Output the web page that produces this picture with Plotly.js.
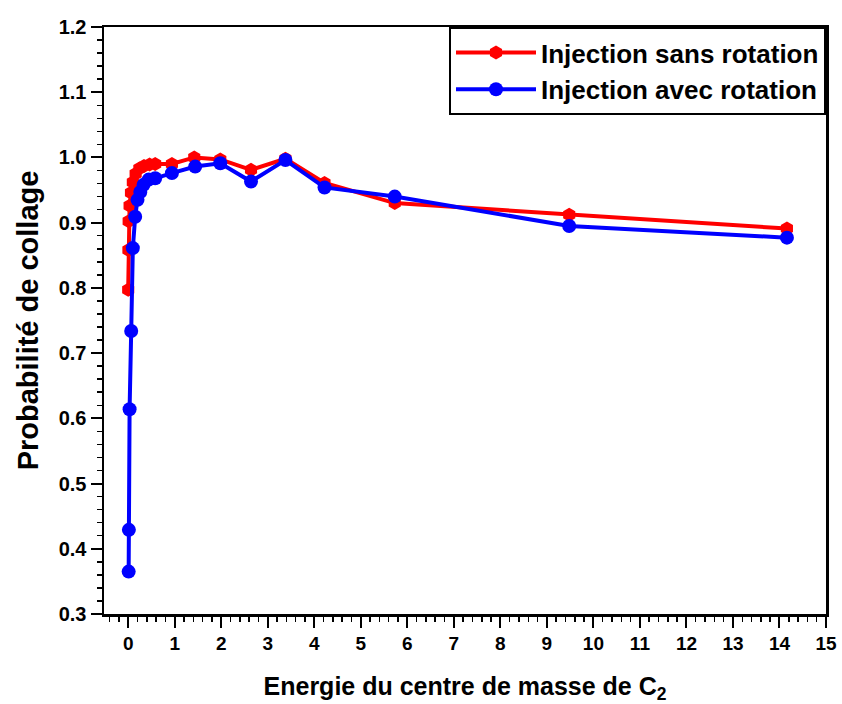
<!DOCTYPE html>
<html>
<head>
<meta charset="utf-8">
<script src="https://cdn.plot.ly/plotly-3.0.1.min.js"></script>
<style>html,body{margin:0;padding:0;background:#fff;}#chart{width:842px;height:704px;}</style>
</head>
<body>
<div id="chart"></div>
<script>
// Series: Injection sans rotation (red)
const xSans = [0.0, 0.005, 0.01, 0.03, 0.06, 0.1, 0.16, 0.24, 0.34, 0.46, 0.58, 0.94, 1.42, 1.98, 2.64, 3.38, 4.22, 5.73, 9.48, 14.16];
const ySans = [0.797, 0.858, 0.902, 0.926, 0.946, 0.962, 0.975, 0.983, 0.987, 0.989, 0.990, 0.990, 1.000, 0.997, 0.981, 0.998, 0.961, 0.930, 0.912, 0.891];
// Series: Injection avec rotation (blue)
const xAvec = [0.01, 0.015, 0.03, 0.065, 0.1, 0.15, 0.2, 0.26, 0.33, 0.44, 0.58, 0.94, 1.44, 1.98, 2.64, 3.38, 4.22, 5.73, 9.48, 14.16];
const yAvec = [0.365, 0.429, 0.614, 0.734, 0.861, 0.909, 0.935, 0.947, 0.958, 0.966, 0.968, 0.976, 0.986, 0.991, 0.963, 0.996, 0.954, 0.940, 0.895, 0.877];
const seriesNames = ["Injection sans rotation", "Injection avec rotation"];
const xTickVals = [0,1,2,3,4,5,6,7,8,9,10,11,12,13,14,15];
const yTickVals = [0.3,0.4,0.5,0.6,0.7,0.8,0.9,1.0,1.1,1.2];
const yTickText = ["0.3","0.4","0.5","0.6","0.7","0.8","0.9","1.0","1.1","1.2"];
const xTitle = "Energie du centre de masse de C<sub>2</sub>";
const yTitle = "Probabilité de collage";

const boldFont = "Liberation Sans, Arial, sans-serif";

const traces = [
  {x: xSans, y: ySans, name: seriesNames[0], mode: "lines+markers", type: "scatter",
   line: {color: "#FF0000", width: 4}, marker: {symbol: "hexagon", size: 14, color: "#FF0000"}},
  {x: xAvec, y: yAvec, name: seriesNames[1], mode: "lines+markers", type: "scatter",
   line: {color: "#0000FF", width: 4}, marker: {symbol: "circle", size: 14, color: "#0000FF"}}
];

const layout = {
  width: 842, height: 704,
  margin: {l: 104, r: 16, t: 27, b: 90},
  paper_bgcolor: "#fff", plot_bgcolor: "#fff",
  showlegend: true,
  legend: {x: 1, y: 1, xanchor: "right", yanchor: "top", bordercolor: "#000", borderwidth: 2,
           bgcolor: "#fff", font: {family: boldFont, size: 26, color: "#000", weight: "bold"},
           itemwidth: 80, tracegroupgap: 0},
  xaxis: {
    range: [-0.52, 15], showgrid: false, zeroline: false,
    showline: true, linecolor: "#000", linewidth: 2.5, mirror: true,
    tickmode: "array", tickvals: xTickVals, ticks: "outside", ticklen: 11, tickwidth: 2, tickcolor: "#000",
    minor: {dtick: 0.2, tick0: 0, ticks: "outside", ticklen: 5, tickwidth: 1.5, tickcolor: "#000", showgrid: false},
    tickfont: {family: boldFont, size: 19, color: "#000", weight: "bold"},
    title: {text: xTitle, font: {family: boldFont, size: 25, color: "#000", weight: "bold"}, standoff: 28}
  },
  yaxis: {
    range: [0.3, 1.2], showgrid: false, zeroline: false,
    showline: true, linecolor: "#000", linewidth: 2.5, mirror: true,
    tickmode: "array", tickvals: yTickVals, ticktext: yTickText, ticks: "outside", ticklen: 11, tickwidth: 2, tickcolor: "#000",
    minor: {dtick: 0.02, tick0: 0.3, ticks: "outside", ticklen: 5, tickwidth: 1.5, tickcolor: "#000", showgrid: false},
    tickfont: {family: boldFont, size: 20, color: "#000", weight: "bold"},
    title: {text: yTitle, font: {family: boldFont, size: 29, color: "#000", weight: "bold"}, standoff: 12}
  }
};

Plotly.newPlot("chart", traces, layout, {displayModeBar: false, staticPlot: true});
</script>
</body>
</html>
